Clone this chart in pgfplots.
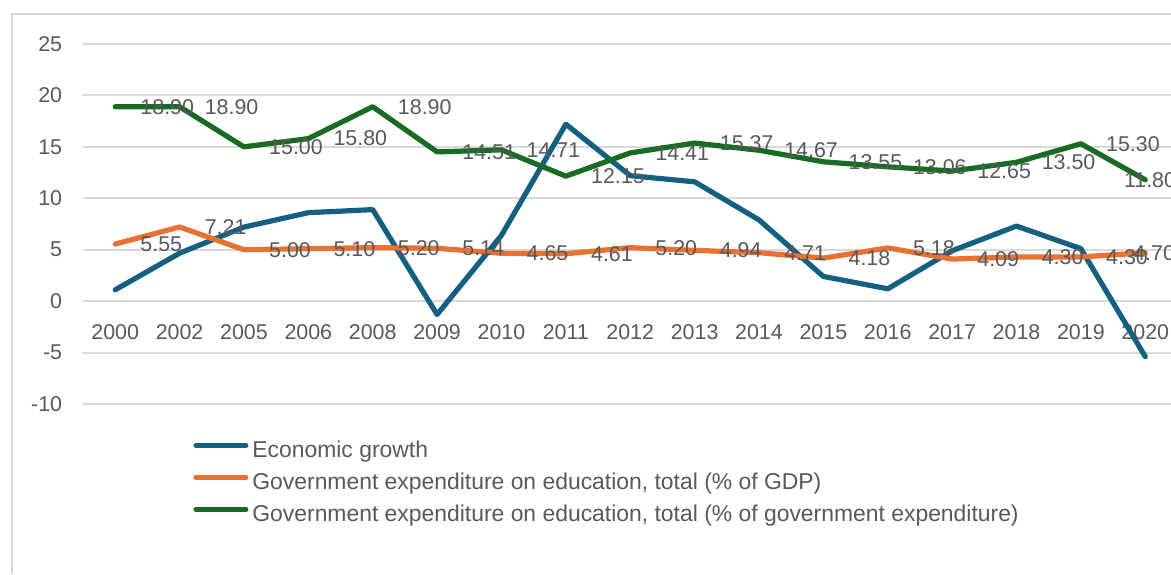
\documentclass[border=0pt]{standalone}
\usepackage{pgfplots}
\usepackage{pgfplotstable}
\pgfplotsset{compat=1.18}
\usepackage{fontspec}
\setmainfont{Liberation Sans}
\definecolor{cblue}{HTML}{156082}
\definecolor{corange}{HTML}{E97132}
\definecolor{cgreen}{HTML}{196B24}
\definecolor{gridc}{HTML}{D9D9D9}
\definecolor{txt}{HTML}{595959}

\pgfplotstableread{
x year growth gdp gov
0  2000  1.1  5.55 18.90
1  2002  4.66 7.21 18.90
2  2005  7.2  5.00 15.00
3  2006  8.6  5.10 15.80
4  2008  8.9  5.20 18.90
5  2009 -1.3  5.14 14.51
6  2010  6.4  4.65 14.71
7  2011 17.2  4.61 12.15
8  2012 12.2  5.20 14.41
9  2013 11.6  4.94 15.37
10 2014  7.9  4.71 14.67
11 2015  2.4  4.18 13.55
12 2016  1.2  5.18 13.06
13 2017  4.9  4.09 12.65
14 2018  7.3  4.30 13.50
15 2019  5.1  4.30 15.30
16 2020 -5.4  4.70 11.80
}\data

\newcommand{\lblfmt}{\pgfmathprintnumber[fixed,fixed zerofill,precision=2,assume math mode=true]{\pgfplotspointmeta}}

\begin{document}
\begin{tikzpicture}
\useasboundingbox (0pt,0pt) rectangle (585.5pt,287pt);
\clip (0pt,0pt) rectangle (585.5pt,287pt);
\fill[white] (0pt,0pt) rectangle (585.5pt,287pt);
\begin{axis}[
  at={(41.5pt,85pt)}, anchor=south west,
  scale only axis, width=544pt, height=180pt,
  xmin=-0.5, xmax=16.4, ymin=-10, ymax=25,
  axis line style={draw=none},
  tick style={draw=none},
  ymajorgrids, major grid style={gridc, line width=1pt},
  ytick={-10,-5,0,5,10,15,20,25},
  yticklabels={-10,-5,0,5,10,15,20,25},
  xtick={0,...,16},
  xticklabels={2000,2002,2005,2006,2008,2009,2010,2011,2012,2013,2014,2015,2016,2017,2018,2019,2020},
  ticklabel style={font=\fontsize{10.7pt}{12.8pt}\selectfont, text=txt},
  yticklabel style={xshift=-6.9pt},
  xticklabel style={anchor=center, yshift=35.8pt},
  clip=false,
  legend style={at={(axis description cs:0,0)}, anchor=north west, xshift=55pt, yshift=-18pt,
    draw=none, fill=none, inner sep=0pt, row sep=5pt,
    font=\fontsize{11.45pt}{13.5pt}\selectfont, text=txt,
    nodes={inner sep=0pt, text height=8.5pt, text depth=2.5pt},
    /tikz/every odd column/.append style={column sep=2pt}},
  legend cell align=left,
  legend image code/.code={\draw[#1, line width=2.6pt, line cap=round] (1.3pt,0.3em) -- (26.2pt,0.3em);},
  every axis plot/.append style={line width=2.6pt, line join=round, line cap=round},
  nodes near coords style={font=\fontsize{10.7pt}{12.8pt}\selectfont, text=txt, anchor=west, xshift=8pt},
]
\addplot[cblue, no markers] table[x=x, y=growth] {\data};
\addlegendentry{Economic growth}
\addplot[corange, no markers] table[x=x, y=gdp] {\data};
\addlegendentry{Government expenditure on education, total (\% of GDP)}
\addplot[cgreen, no markers] table[x=x, y=gov] {\data};
\addlegendentry{Government expenditure on education, total (\% of government expenditure)}
% data labels
\addplot[draw=none, no markers, forget plot, point meta=y, nodes near coords={\lblfmt},
  skip coords between index={16}{17}] table[x=x, y=gdp] {\data};
\addplot[draw=none, no markers, forget plot, point meta=y, nodes near coords={\lblfmt},
  skip coords between index={0}{16}, nodes near coords style={anchor=east, xshift=11.5pt}] table[x=x, y=gdp] {\data};
\addplot[draw=none, no markers, forget plot, point meta=y, nodes near coords={\lblfmt},
  skip coords between index={16}{17}] table[x=x, y=gov] {\data};
\addplot[draw=none, no markers, forget plot, point meta=y, nodes near coords={\lblfmt},
  skip coords between index={0}{16}, nodes near coords style={anchor=east, xshift=12pt}] table[x=x, y=gov] {\data};
\end{axis}
\draw[gridc, line width=1pt] (6pt,0pt) -- (6pt,280pt) -- (585.5pt,280pt);
\end{tikzpicture}
\end{document}
